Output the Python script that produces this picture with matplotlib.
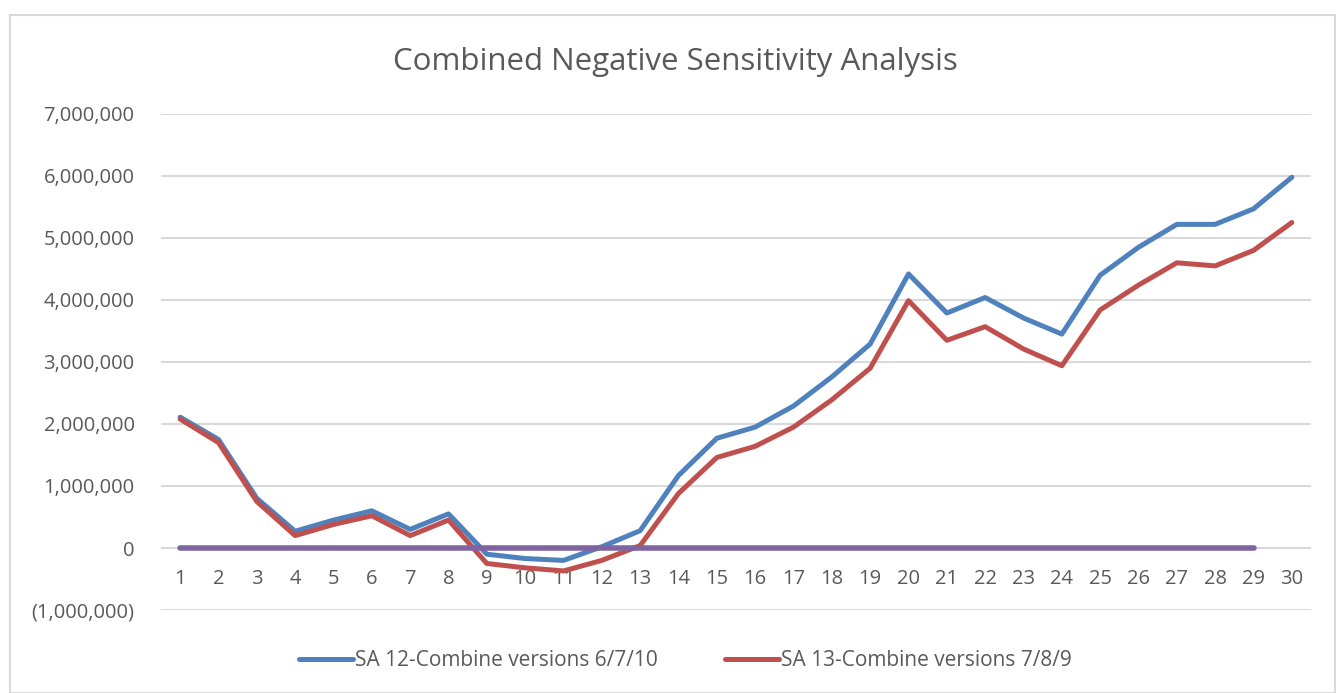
import matplotlib.pyplot as plt
from matplotlib.patches import Rectangle
from matplotlib.ticker import FuncFormatter

periods = list(range(1, 31))
sa12 = [2.11, 1.75, 0.80, 0.27, 0.45, 0.60, 0.30, 0.55, -0.10, -0.17,
        -0.20, 0.02, 0.28, 1.17, 1.77, 1.95, 2.29, 2.76, 3.29, 4.42,
        3.79, 4.04, 3.71, 3.45, 4.40, 4.85, 5.22, 5.22, 5.47, 5.98]
sa13 = [2.08, 1.70, 0.75, 0.20, 0.38, 0.52, 0.20, 0.45, -0.25, -0.32,
        -0.37, -0.20, 0.04, 0.88, 1.46, 1.64, 1.95, 2.39, 2.90, 3.99,
        3.35, 3.57, 3.21, 2.94, 3.84, 4.24, 4.60, 4.55, 4.80, 5.25]
sa12 = [v * 1e6 for v in sa12]
sa13 = [v * 1e6 for v in sa13]
zero_periods = list(range(1, 30))
zero_line = [0] * len(zero_periods)

names = ["SA 12-Combine versions 6/7/10", "SA 13-Combine versions 7/8/9"]
yticks = [-1e6, 0, 1e6, 2e6, 3e6, 4e6, 5e6, 6e6, 7e6]

plt.rcParams['font.family'] = ['Open Sans', 'DejaVu Sans']
txt = '#595959'

fig = plt.figure(figsize=(13.44, 6.93), dpi=100)
W, H = 1344, 693
ax = fig.add_axes([161 / W, 1 - 610 / H, 1150 / W, 496 / H])

fig.patches.append(Rectangle((10 / W, 0), 1325 / W, 1 - 15 / H, transform=fig.transFigure,
                             fill=False, edgecolor='#d9d9d9', linewidth=1.5))

for y in yticks:
    ax.axhline(y, color='#d9d9d9', linewidth=1.5, zorder=0)

l1, = ax.plot(periods, sa12, color='#4F81BD', linewidth=3.6, solid_capstyle='round', zorder=3)
l2, = ax.plot(periods, sa13, color='#C0504D', linewidth=3.6, solid_capstyle='round', zorder=3)
ax.plot(zero_periods, zero_line, color='#8064A2', linewidth=4.0, solid_capstyle='round', zorder=4)

ax.set_xlim(0.5, 30.5)
ax.set_ylim(-1e6, 7e6)
ax.set_yticks(yticks)
ax.yaxis.set_major_formatter(FuncFormatter(
    lambda v, p: '0' if v == 0 else ('({:,.0f})'.format(-v) if v < 0 else '{:,.0f}'.format(v))))
ax.set_xticks(periods)
ax.set_xticklabels([str(p) for p in periods])
ax.spines['bottom'].set_position(('data', 0))
for s in ax.spines.values():
    s.set_visible(False)
ax.tick_params(axis='both', length=0, labelsize=14.5, labelcolor=txt)
ax.tick_params(axis='x', pad=15)
ax.tick_params(axis='y', pad=19)

fig.text(675 / W, 1 - 62 / H, "Combined Negative Sensitivity Analysis", ha='center', va='center',
         fontsize=22.5, color=txt)

fig.legend([l1, l2], names, loc='center', bbox_to_anchor=(0.51, 1 - 661 / H), ncol=2,
           frameon=False, fontsize=15, labelcolor=txt, handlelength=2.6, handletextpad=0.1,
           columnspacing=3.2)

fig.savefig('out.png', dpi=100)
